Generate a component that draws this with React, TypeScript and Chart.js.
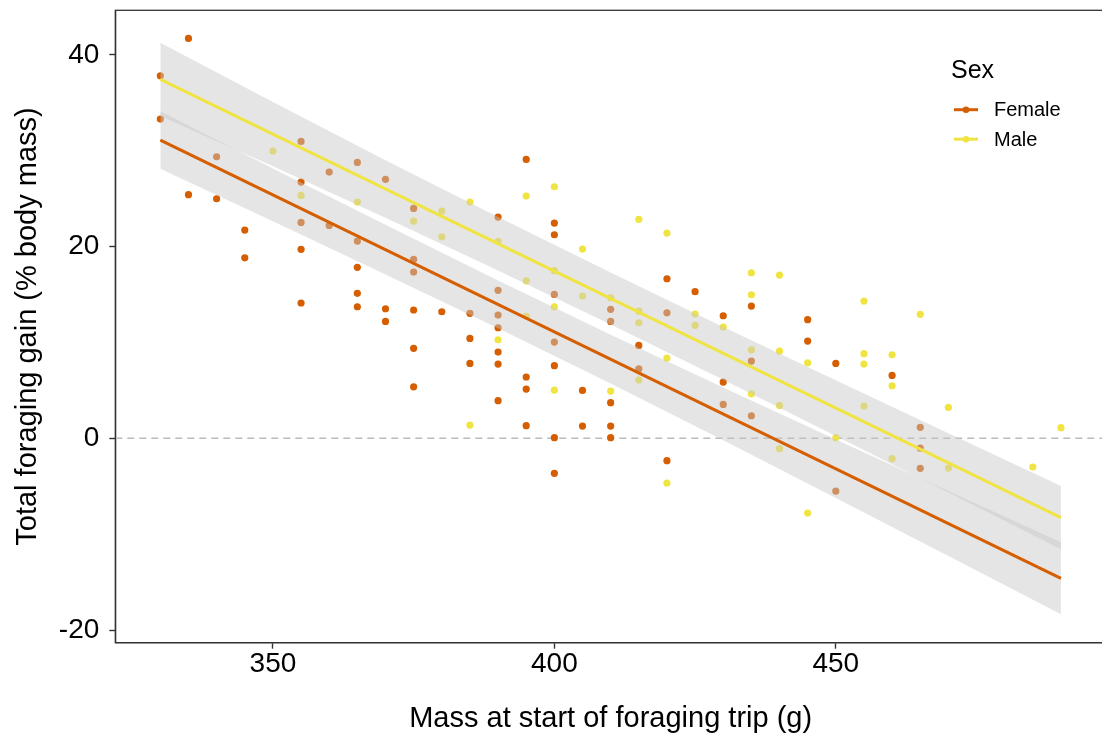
import React, { useEffect, useRef } from "react";
import { Chart, registerables } from "chart.js";

Chart.register(...registerables);

const FONT = "'Liberation Sans', Arial, Helvetica, sans-serif";
const FEMALE_COLOR = "#D55E00";
const MALE_COLOR = "#F0E442";
const RIBBON_COLOR = "rgba(200,200,200,0.47)";

// Observed points: Female
const femaleMass = [
  335, 330, 330, 340, 355, 365, 360, 355, 335, 340, 345, 345, 355, 360, 365, 355, 365, 365, 365, 355,
  370, 375, 395, 390, 400, 400, 375, 375, 370, 370, 375, 380, 375, 375, 385, 385, 385, 390, 390, 390,
  390, 390, 390, 395, 395, 395, 400, 400, 400, 400, 400, 405, 405, 410, 410, 410, 410, 410, 415, 415,
  420, 420, 420, 425, 430, 430, 430, 435, 435, 435, 445, 445, 450, 450, 460, 465, 465, 465,
];
const femaleGain = [
  41.73, 37.83, 33.31, 29.38, 30.98, 28.79, 27.78, 26.74, 25.42, 25.0, 21.73, 18.84, 22.53, 22.22, 20.58, 19.72, 17.84, 15.13, 13.73, 14.12,
  27.02, 23.99, 29.1, 23.09, 22.46, 21.24, 18.67, 17.35, 13.52, 12.2, 13.39, 13.21, 9.39, 5.38, 13.04, 10.43, 7.82, 15.44, 12.86, 11.54,
  9.0, 7.75, 3.93, 6.4, 5.14, 1.32, 15.02, 10.05, 7.58, 0.07, -3.65, 5.0, 1.28, 13.46, 12.2, 3.72, 1.28, 0.07, 9.7, 7.26,
  16.65, 13.1, -2.33, 15.3, 12.79, 5.87, 3.54, 13.8, 8.06, 2.36, 12.38, 10.15, 7.82, -5.5, 6.57, 1.15, -1.01, -3.13,
];

// Observed points: Male
const maleMass = [
  350, 355, 365, 375, 380, 380, 385, 400, 395, 390, 405, 385, 390, 395, 395, 400, 400, 400, 405, 410,
  410, 415, 415, 415, 415, 420, 420, 420, 425, 425, 430, 435, 435, 435, 435, 440, 440, 440, 440, 445,
  445, 450, 455, 455, 455, 455, 460, 460, 460, 465, 470, 470, 485, 490,
];
const maleGain = [
  29.97, 25.35, 24.65, 22.67, 23.71, 21.03, 24.65, 26.25, 25.28, 20.55, 19.75, 1.39, 10.29, 16.44, 12.73, 17.49, 13.73, 5.04, 14.85, 14.67,
  4.93, 22.85, 13.28, 12.06, 6.08, 21.42, 8.38, -4.66, 12.97, 11.79, 11.61, 17.28, 14.98, 9.24, 4.65, 17.04, 9.11, 3.44, -1.08, 7.89,
  -7.79, 0.07, 14.32, 8.83, 7.75, 3.37, 8.72, 5.49, -2.12, 12.94, 3.23, -3.1, -2.99, 1.11,
];

// Fitted lines
const fitMass = [330, 490];
const femaleFit = [31.12, -14.6];
const maleFit = [37.45, -8.28];

// Confidence ribbons
const ribbonMass = [330, 350, 370, 390, 410, 430, 450, 470, 490];
const femaleUpper = [34.12, 28.15, 22.29, 16.48, 10.81, 5.3, -0.12, -5.48, -10.84];
const femaleLower = [28.12, 22.65, 17.09, 11.48, 5.71, -0.2, -6.22, -12.28, -18.36];
const maleUpper = [41.27, 35.08, 29.02, 23.1, 17.31, 11.62, 6.05, 0.54, -4.98];
const maleLower = [33.63, 28.38, 23.02, 17.5, 11.87, 6.12, 0.25, -5.66, -11.58];

// Axes
const xTicks = [350, 400, 450];
const yTicks = [-20, 0, 20, 40];
const xRange = [322, 498];
const yRange = [-21.32, 44.66];
const refLineValue = 0;

const xTitle = "Mass at start of foraging trip (g)";
const yTitle = "Total foraging gain (% body mass)";
const legendTitle = "Sex";
const legendLabels = ["Female", "Male"];
const legendColors = [FEMALE_COLOR, MALE_COLOR];

const toPts = (xs: number[], ys: number[]) => xs.map((x, i) => ({ x, y: ys[i] }));

const decorPlugin = {
  id: "decor",
  beforeDatasetsDraw(chart: any) {
    const { ctx, chartArea, scales } = chart;
    const y = scales.y.getPixelForValue(refLineValue);
    ctx.save();
    ctx.strokeStyle = "#BBBBBB";
    ctx.lineWidth = 1.5;
    ctx.setLineDash([7, 5]);
    ctx.beginPath();
    ctx.moveTo(chartArea.left, y);
    ctx.lineTo(chartArea.right, y);
    ctx.stroke();
    ctx.restore();
  },
  afterDraw(chart: any) {
    const { ctx, chartArea } = chart;
    ctx.save();
    ctx.strokeStyle = "#333333";
    ctx.lineWidth = 1.3;
    ctx.strokeRect(chartArea.left, chartArea.top, chartArea.right - chartArea.left, chartArea.bottom - chartArea.top);
    // legend
    ctx.fillStyle = "#000";
    ctx.textAlign = "left";
    ctx.textBaseline = "middle";
    ctx.font = `25px ${FONT}`;
    ctx.fillText(legendTitle, 951, 71);
    const rows = [109.7, 139.2];
    legendLabels.forEach((lab, i) => {
      const yy = rows[i];
      ctx.strokeStyle = legendColors[i];
      ctx.lineWidth = 3;
      ctx.beginPath();
      ctx.moveTo(954, yy);
      ctx.lineTo(978, yy);
      ctx.stroke();
      ctx.fillStyle = legendColors[i];
      ctx.beginPath();
      ctx.arc(966, yy, 3.3, 0, Math.PI * 2);
      ctx.fill();
      ctx.fillStyle = "#000";
      ctx.font = `20px ${FONT}`;
      ctx.fillText(lab, 994, yy + 1.2);
    });
    ctx.restore();
  },
};

const noPad = (s: any) => {
  s.paddingTop = 0;
  s.paddingBottom = 0;
  s.paddingLeft = 0;
  s.paddingRight = 0;
};

export default function App() {
  const ref = useRef<HTMLCanvasElement | null>(null);
  useEffect(() => {
    if (!ref.current) return;
    const chart = new Chart(ref.current, {
      type: "scatter",
      data: {
        datasets: [
          { type: "line", data: toPts(ribbonMass, femaleUpper), fill: "+1", backgroundColor: RIBBON_COLOR, borderColor: "transparent", borderWidth: 0, pointRadius: 0, order: 3 } as any,
          { type: "line", data: toPts(ribbonMass, femaleLower), fill: false, borderColor: "transparent", borderWidth: 0, pointRadius: 0, order: 3 } as any,
          { type: "line", data: toPts(ribbonMass, maleUpper), fill: "+1", backgroundColor: RIBBON_COLOR, borderColor: "transparent", borderWidth: 0, pointRadius: 0, order: 3 } as any,
          { type: "line", data: toPts(ribbonMass, maleLower), fill: false, borderColor: "transparent", borderWidth: 0, pointRadius: 0, order: 3 } as any,
          { type: "scatter", data: toPts(femaleMass, femaleGain), backgroundColor: FEMALE_COLOR, borderWidth: 0, pointRadius: 3.6, order: 5 } as any,
          { type: "scatter", data: toPts(maleMass, maleGain), backgroundColor: MALE_COLOR, borderWidth: 0, pointRadius: 3.6, order: 5 } as any,
          { type: "line", data: toPts(fitMass, femaleFit), borderColor: FEMALE_COLOR, borderWidth: 3, pointRadius: 0, fill: false, order: 1 } as any,
          { type: "line", data: toPts(fitMass, maleFit), borderColor: MALE_COLOR, borderWidth: 3, pointRadius: 0, fill: false, order: 1 } as any,
        ],
      },
      options: {
        responsive: false,
        animation: false,
        layout: { padding: { top: 10.3, right: 3.5, left: 0, bottom: 0 } },
        plugins: { legend: { display: false }, tooltip: { enabled: false } },
        scales: {
          x: {
            type: "linear",
            min: xRange[0],
            max: xRange[1],
            afterBuildTicks: (s: any) => { s.ticks = xTicks.map((v) => ({ value: v })); },
            afterFit: (s: any) => { s.height = 95.3; noPad(s); },
            grid: { display: true, drawOnChartArea: false, drawTicks: true, tickLength: 6, tickColor: "#333333", tickWidth: 1.4 },
            border: { display: true, color: "#333333", width: 1.3 },
            ticks: { font: { family: FONT, size: 28, lineHeight: 1 }, color: "#000", padding: 1.5, maxRotation: 0, autoSkip: false },
            title: { display: true, text: xTitle, color: "#000", font: { family: FONT, size: 29, lineHeight: 1.2 }, padding: { top: 0, bottom: 1.5 } },
          },
          y: {
            type: "linear",
            min: yRange[0],
            max: yRange[1],
            afterBuildTicks: (s: any) => { s.ticks = yTicks.map((v) => ({ value: v })); },
            afterFit: (s: any) => { s.width = 115.3; noPad(s); },
            grid: { display: true, drawOnChartArea: false, drawTicks: true, tickLength: 6, tickColor: "#333333", tickWidth: 1.4 },
            border: { display: true, color: "#333333", width: 1.3 },
            ticks: { font: { family: FONT, size: 28, lineHeight: 1 }, color: "#000", padding: 10, autoSkip: false },
            title: { display: true, text: yTitle, color: "#000", font: { family: FONT, size: 29, lineHeight: 1.2 }, padding: { top: 11, bottom: 0 } },
          },
        },
      } as any,
      plugins: [decorPlugin],
    });
    return () => chart.destroy();
  }, []);
  return (
    <div style={{ position: "absolute", left: 0, top: 0, width: 1102, height: 738, overflow: "hidden", background: "#fff" }}>
      <canvas ref={ref} width={1110} height={738} style={{ display: "block", width: 1110, height: 738 }} />
    </div>
  );
}
